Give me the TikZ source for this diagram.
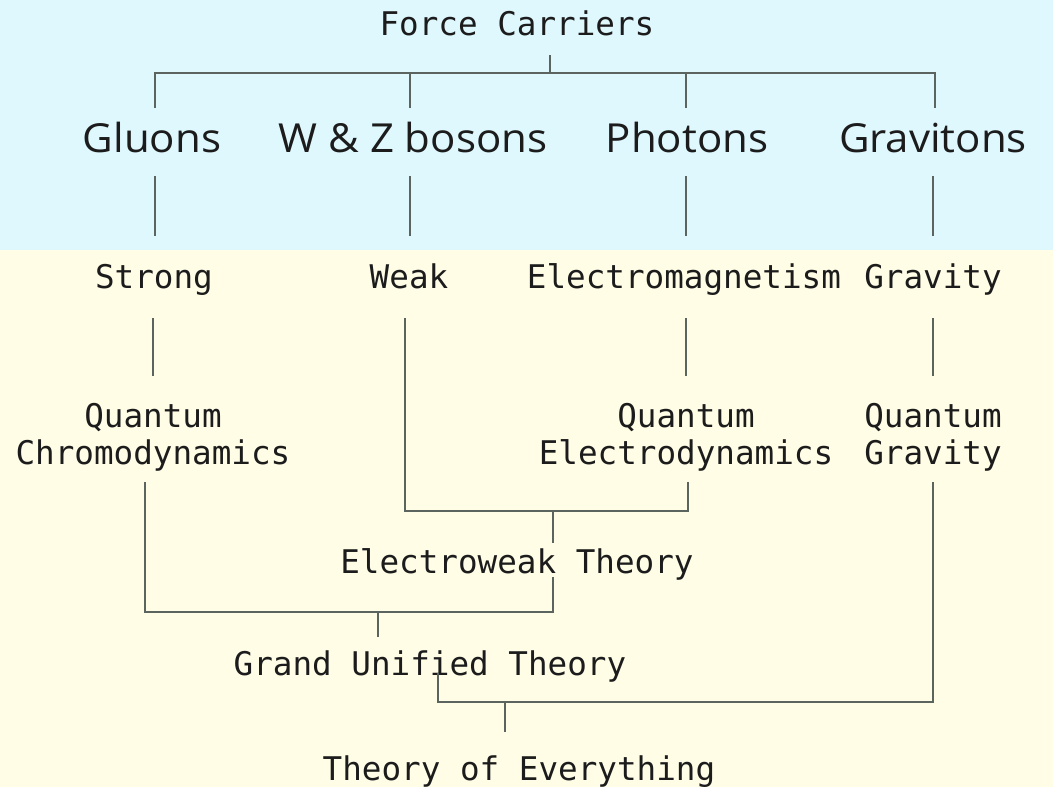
\documentclass[tikz,border=0pt]{standalone}
\usepackage{fontspec}
\usetikzlibrary{calc}
\newfontfamily\monofnt{DejaVu Sans Mono}
\newfontfamily\sansfnt[FakeStretch=1.05]{Open Sans}
\definecolor{topbg}{RGB}{222,248,254}
\definecolor{botbg}{RGB}{255,253,230}
\definecolor{linecol}{RGB}{92,100,96}
\definecolor{txtcol}{RGB}{28,28,28}
\tikzset{
  mono/.style={font=\monofnt\fontsize{32.6}{37}\selectfont, inner sep=0pt, anchor=base, text=txtcol, align=center},
  carrier/.style={font=\sansfnt\fontsize{40}{46}\selectfont, inner sep=0pt, anchor=base, text=txtcol},
  link/.style={draw=linecol, line width=2pt}
}
\begin{document}
\begin{tikzpicture}[x=1pt,y=-1pt]
\useasboundingbox (0,0) rectangle (1053,787);
\fill[topbg] (0,0) rectangle (1053,250);
\fill[botbg] (0,250) rectangle (1053,787);

% nodes
\node[mono] (fc) at (517,35) {Force Carriers};
\node[carrier] (gluons) at (152,152) {Gluons};
\node[carrier] (wz) at (413,152) {W \& Z bosons};
\node[carrier] (photons) at (687,152) {Photons};
\node[carrier] (gravitons) at (933,152) {Gravitons};
\node[mono] (strong) at (154,288) {Strong};
\node[mono] (weak) at (409,288) {Weak};
\node[mono] (em) at (684,288) {Electromagnetism};
\node[mono] (gravity) at (933,288) {Gravity};
\node[mono] (qcd) at (153,464) {Quantum\\Chromodynamics};
\node[mono] (qed) at (686,464) {Quantum\\Electrodynamics};
\node[mono] (qg) at (933,464) {Quantum\\Gravity};
\node[mono] (ew) at (517,573) {Electroweak Theory};
\node[mono] (gut) at (430,675) {Grand Unified Theory};
\node[mono] (toe) at (519,780) {Theory of Everything};

% junctions
\coordinate (jfc) at (550,73);
\coordinate (jweak) at (553,511);
\coordinate (jgut) at (378,612);
\coordinate (jtoe) at (505,702);

% force carriers tree
\draw[link] ($(fc.base)+(33,20)$) -- (jfc);
\draw[link] ($(gluons.base)+(3,-44)$) |- (jfc);
\draw[link] ($(wz.base)+(-3,-44)$) |- (jfc);
\draw[link] ($(photons.base)+(-1,-44)$) |- (jfc);
\draw[link] ($(gravitons.base)+(2,-44)$) |- (jfc);

% carriers to forces
\draw[link] ($(gluons.base)+(3,24)$) -- ($(strong.base -| gluons.base)+(3,-52)$);
\draw[link] ($(wz.base)+(-3,24)$) -- ($(weak.base -| wz.base)+(-3,-52)$);
\draw[link] ($(photons.base)+(-1,24)$) -- ($(em.base -| photons.base)+(-1,-52)$);
\draw[link] ($(gravitons.base)+(0,24)$) -- ($(gravity.base -| gravitons.base)+(0,-52)$);

% forces to quantum theories
\draw[link] ($(strong.base)+(-1,30)$) -- ($(qcd.north -| strong.base)+(-1,-27)$);
\draw[link] ($(em.base)+(2,30)$) -- ($(qed.north -| em.base)+(2,-27)$);
\draw[link] ($(gravity.base)+(0,30)$) -- ($(qg.north)+(0,-27)$);

% electroweak
\draw[link] ($(weak.base)+(-4,30)$) |- (jweak);
\draw[link] ($(qed.south)+(2,11)$) |- (jweak);
\draw[link] (jweak) -- ($(ew.north -| jweak)+(0,-5)$);

% grand unified
\draw[link] ($(ew.south -| jweak)+(0,-3)$) |- (jgut) -| ($(qcd.south)+(-8,11)$);
\draw[link] (jgut) -- ($(gut.north -| jgut)+(0,-13)$);

% theory of everything
\draw[link] ($(gut.base)+(8,-2)$) |- (jtoe) -| ($(qg.south)+(0,11)$);
\draw[link] (jtoe) -- ($(toe.north -| jtoe)+(0,-23)$);
\end{tikzpicture}
\end{document}
